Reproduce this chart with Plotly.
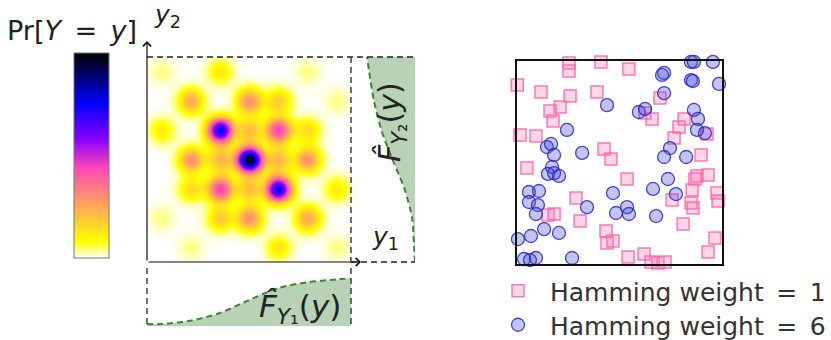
import numpy as np
import plotly.graph_objects as go

W, H = 831, 340

# Joint pmf Pr[Y = y] on the 7x7 lattice, rows listed from y2 = 6 (top) down to y2 = 0,
# columns y1 = 0 .. 6 (normalised so that the largest mass is 1).
pmf_rows_top_down = [
    [0.04, 0.00, 0.12, 0.00, 0.00, 0.04, 0.00],
    [0.00, 0.25, 0.00, 0.30, 0.18, 0.00, 0.04],
    [0.12, 0.00, 0.75, 0.20, 0.45, 0.15, 0.00],
    [0.00, 0.30, 0.22, 1.00, 0.22, 0.30, 0.00],
    [0.00, 0.15, 0.45, 0.20, 0.75, 0.00, 0.12],
    [0.04, 0.00, 0.18, 0.30, 0.00, 0.25, 0.00],
    [0.00, 0.04, 0.00, 0.00, 0.12, 0.00, 0.04],
]
grid_levels = [0, 1, 2, 3, 4, 5, 6]

# Empirical marginal CDFs evaluated along each coordinate
cdf_knots = [-0.5, 0, 1, 2, 3, 4, 5, 6, 6.5]
cdf_y1 = [0.04, 0.04, 0.11, 0.27, 0.54, 0.79, 0.91, 0.97, 1.00]
cdf_y2 = [0.00, 0.02, 0.06, 0.22, 0.47, 0.70, 0.855, 0.955, 1.00]

# Sample points of Hamming weight 1 and Hamming weight 6
hw1_x = [0.253, 0.253, 0.000, 0.116, 0.258, 0.209, 0.160, 0.175, 0.013, 0.091,
         0.047, 0.287, 0.150, 0.180, 0.307, 0.409, 0.546, 0.390, 0.698, 0.625,
         0.659, 0.424, 0.458, 0.537, 0.434, 0.439, 0.468, 0.542, 0.620, 0.654,
         0.688, 0.723, 0.816, 0.791, 0.928, 0.767, 0.899, 0.879, 0.933, 0.869,
         0.855, 0.977, 0.757, 0.850, 0.982, 0.860, 0.811, 0.967, 0.933]
hw1_y = [0.989, 0.949, 0.881, 0.846, 0.827, 0.773, 0.753, 0.704, 0.635, 0.630,
         0.473, 0.326, 0.242, 0.247, 0.213, 0.994, 0.959, 0.846, 0.817, 0.743,
         0.714, 0.566, 0.517, 0.419, 0.164, 0.105, 0.114, 0.036, 0.051, 0.011,
         0.006, 0.011, 0.714, 0.674, 0.640, 0.620, 0.537, 0.434, 0.439, 0.419,
         0.365, 0.350, 0.316, 0.301, 0.311, 0.277, 0.198, 0.129, 0.060]
hw6_x = [0.243, 0.145, 0.165, 0.180, 0.317, 0.170, 0.150, 0.180, 0.204, 0.057,
         0.106, 0.057, 0.101, 0.091, 0.131, 0.204, 0.067, 0.003, 0.033, 0.062,
         0.091, 0.268, 0.341, 0.439, 0.595, 0.625, 0.468, 0.483, 0.537, 0.546,
         0.664, 0.679, 0.850, 0.864, 0.957, 0.708, 0.718, 0.850, 0.859, 0.987,
         0.718, 0.864, 0.884, 0.879, 0.918, 0.747, 0.718, 0.826, 0.737, 0.776]
hw6_y = [0.660, 0.576, 0.591, 0.537, 0.547, 0.478, 0.444, 0.448, 0.434, 0.355,
         0.360, 0.306, 0.291, 0.247, 0.173, 0.154, 0.139, 0.124, 0.026, 0.021,
         0.031, 0.031, 0.281, 0.782, 0.748, 0.763, 0.350, 0.252, 0.281, 0.247,
         0.370, 0.237, 0.994, 0.994, 0.994, 0.930, 0.940, 0.905, 0.900, 0.886,
         0.841, 0.758, 0.714, 0.660, 0.644, 0.571, 0.527, 0.527, 0.419, 0.345]

EQ = "\u2002=\u2002"   # math-style spacing around the equals sign
series_names = ["Hamming weight" + EQ + "1", "Hamming weight" + EQ + "6"]


def px(x):
    return x / W


def py(y):
    return 1 - y / H


FONT = "DejaVu Sans"
TEXT = "#222222"
GREEN_FILL = "#b7d2b4"
GREEN_LINE = "#3f8434"

# gnuplot2 colour map, reversed (white = 0, black = max)
colorscale = [
    [0.000, "rgb(255,255,255)"],
    [0.080, "rgb(255,255,0)"],
    [0.436, "rgb(255,73,182)"],
    [0.580, "rgb(135,0,255)"],
    [0.750, "rgb(5,0,255)"],
    [0.756, "rgb(0,0,249)"],
    [1.000, "rgb(0,0,0)"],
]

# Smooth density rendering: each lattice mass spread with a small Gaussian kernel
sigma = 0.3
fine = np.linspace(-0.5, 6.5, 211)
gx, gy = np.meshgrid(fine, fine)
pmf = np.array(pmf_rows_top_down[::-1])
density = np.zeros_like(gx)
for i, v2 in enumerate(grid_levels):
    for j, v1 in enumerate(grid_levels):
        density += pmf[i, j] * np.exp(-((gx - v1) ** 2 + (gy - v2) ** 2) / (2 * sigma ** 2))

fig = go.Figure()

fig.add_trace(go.Heatmap(
    x=fine, y=fine, z=density, zmin=0, zmax=1, zsmooth="best",
    colorscale=colorscale, hoverinfo="skip",
    colorbar=dict(
        x=px(74), xanchor="left", y=py(258), yanchor="bottom",
        lenmode="pixels", len=205, thicknessmode="pixels", thickness=35,
        xpad=0, ypad=0, outlinewidth=1, outlinecolor="#777777",
        showticklabels=False, ticks="",
    ),
    xaxis="x", yaxis="y",
))

# Marginal CDF of Y1 below the map
fig.add_trace(go.Scatter(
    x=cdf_knots, y=cdf_y1, mode="lines", fill="tozeroy", fillcolor=GREEN_FILL,
    line=dict(color=GREEN_LINE, width=2, dash="6px,4px", shape="spline", smoothing=0.8),
    showlegend=False, hoverinfo="skip", xaxis="x2", yaxis="y2",
))

# Marginal CDF of Y2 to the right of the map (grows leftwards)
fig.add_trace(go.Scatter(
    x=cdf_y2, y=cdf_knots, mode="lines", fill="tozerox", fillcolor=GREEN_FILL,
    line=dict(color=GREEN_LINE, width=2, dash="6px,4px", shape="spline", smoothing=0.8),
    showlegend=False, hoverinfo="skip", xaxis="x3", yaxis="y3",
))

fig.add_trace(go.Scatter(
    x=hw1_x, y=hw1_y, mode="markers", name=series_names[0], legend="legend",
    marker=dict(symbol="square", size=12, color="rgba(255,120,180,0.30)",
                line=dict(color="rgba(255,100,165,0.85)", width=1.5)),
    cliponaxis=False, xaxis="x4", yaxis="y4",
))
fig.add_trace(go.Scatter(
    x=hw6_x, y=hw6_y, mode="markers", name=series_names[1], legend="legend2",
    marker=dict(symbol="circle", size=13, color="rgba(70,70,215,0.32)",
                line=dict(color="rgba(40,40,200,0.85)", width=1.3)),
    cliponaxis=False, xaxis="x4", yaxis="y4",
))

hidden = dict(visible=False, showgrid=False, zeroline=False, fixedrange=True)

dash = dict(color="#222222", width=1.3, dash="6px,4px")
shapes = []
for (x0, y0, x1, y1) in [
    (147, 57, 415, 57),     # top edge of map + right panel
    (351, 57, 351, 262),    # right edge of map
    (351, 262, 415, 262),   # bottom of right panel
    (147, 268, 147, 326),   # sides of the lower panel
    (351, 268, 351, 326),
]:
    shapes.append(dict(type="line", xref="paper", yref="paper",
                       x0=px(x0), y0=py(y0), x1=px(x1), y1=py(y1), line=dash))

annotations = [
    # axis arrows of the map
    dict(xref="paper", yref="paper", x=px(147), y=py(41), ax=0, ay=221,
         axref="pixel", ayref="pixel", text="", showarrow=True,
         arrowhead=4, arrowsize=1.3, arrowwidth=1.2, arrowcolor="#111111"),
    dict(xref="paper", yref="paper", x=px(361), y=py(262), ax=-214, ay=0,
         axref="pixel", ayref="pixel", text="", showarrow=True,
         arrowhead=4, arrowsize=1.3, arrowwidth=1.2, arrowcolor="#111111"),
    dict(xref="paper", yref="paper", x=px(5), y=py(30), xanchor="left", yanchor="middle",
         text="Pr[<i>Y</i>" + EQ + "<i>y</i>]", showarrow=False,
         font=dict(family=FONT, size=27, color=TEXT)),
    dict(xref="paper", yref="paper", x=px(152), y=py(16), xanchor="left", yanchor="middle",
         text="<i>y</i><sub>2</sub>", showarrow=False,
         font=dict(family=FONT, size=25, color=TEXT)),
    dict(xref="paper", yref="paper", x=px(370), y=py(238), xanchor="left", yanchor="middle",
         text="<i>y</i><sub>1</sub>", showarrow=False,
         font=dict(family=FONT, size=25, color=TEXT)),
    dict(xref="paper", yref="paper", x=px(300), y=py(308), xanchor="center", yanchor="middle",
         text="<i>F\u0302</i><sub><i>Y</i>\u2081</sub>(<i>y</i>)", showarrow=False,
         font=dict(family=FONT, size=31, color=TEXT)),
    dict(xref="paper", yref="paper", x=px(392), y=py(122), xanchor="center", yanchor="middle",
         text="<i>F\u0302</i><sub><i>Y</i>\u2082</sub>(<i>y</i>)", showarrow=False, textangle=-90,
         font=dict(family=FONT, size=30, color=TEXT)),
]

legend_style = dict(xanchor="left", yanchor="middle",
                    font=dict(family=FONT, size=25, color="#333333"),
                    bgcolor="rgba(0,0,0,0)", itemwidth=54)

fig.update_layout(
    width=W, height=H, margin=dict(l=0, r=0, t=0, b=0, autoexpand=False),
    paper_bgcolor="white", plot_bgcolor="rgba(0,0,0,0)",
    xaxis=dict(domain=[px(147), px(351)], range=[-0.5, 6.5], anchor="y", **hidden),
    yaxis=dict(domain=[py(262), py(57)], range=[-0.5, 6.5], anchor="x", **hidden),
    xaxis2=dict(domain=[px(147), px(351)], range=[-0.5, 6.5], anchor="y2", **hidden),
    yaxis2=dict(domain=[py(326), py(278)], range=[0, 1], anchor="x2", **hidden),
    xaxis3=dict(domain=[px(351), px(415)], range=[64 / 48, 0], anchor="y3", **hidden),
    yaxis3=dict(domain=[py(262), py(57)], range=[-0.5, 6.5], anchor="x3", **hidden),
    xaxis4=dict(domain=[px(517.3), px(721.7)], range=[0, 1], anchor="y4",
                showline=True, mirror=True, linecolor="#111111", linewidth=1.5,
                showgrid=False, zeroline=False, showticklabels=False, ticks="", fixedrange=True),
    yaxis4=dict(domain=[py(264.3), py(60.7)], range=[0, 1], anchor="x4",
                showline=True, mirror=True, linecolor="#111111", linewidth=1.5,
                showgrid=False, zeroline=False, showticklabels=False, ticks="", fixedrange=True),
    legend=dict(x=px(486), y=py(291), **legend_style),
    legend2=dict(x=px(486), y=py(325), **legend_style),
    shapes=shapes,
    annotations=annotations,
)

fig.write_html("out.html")
